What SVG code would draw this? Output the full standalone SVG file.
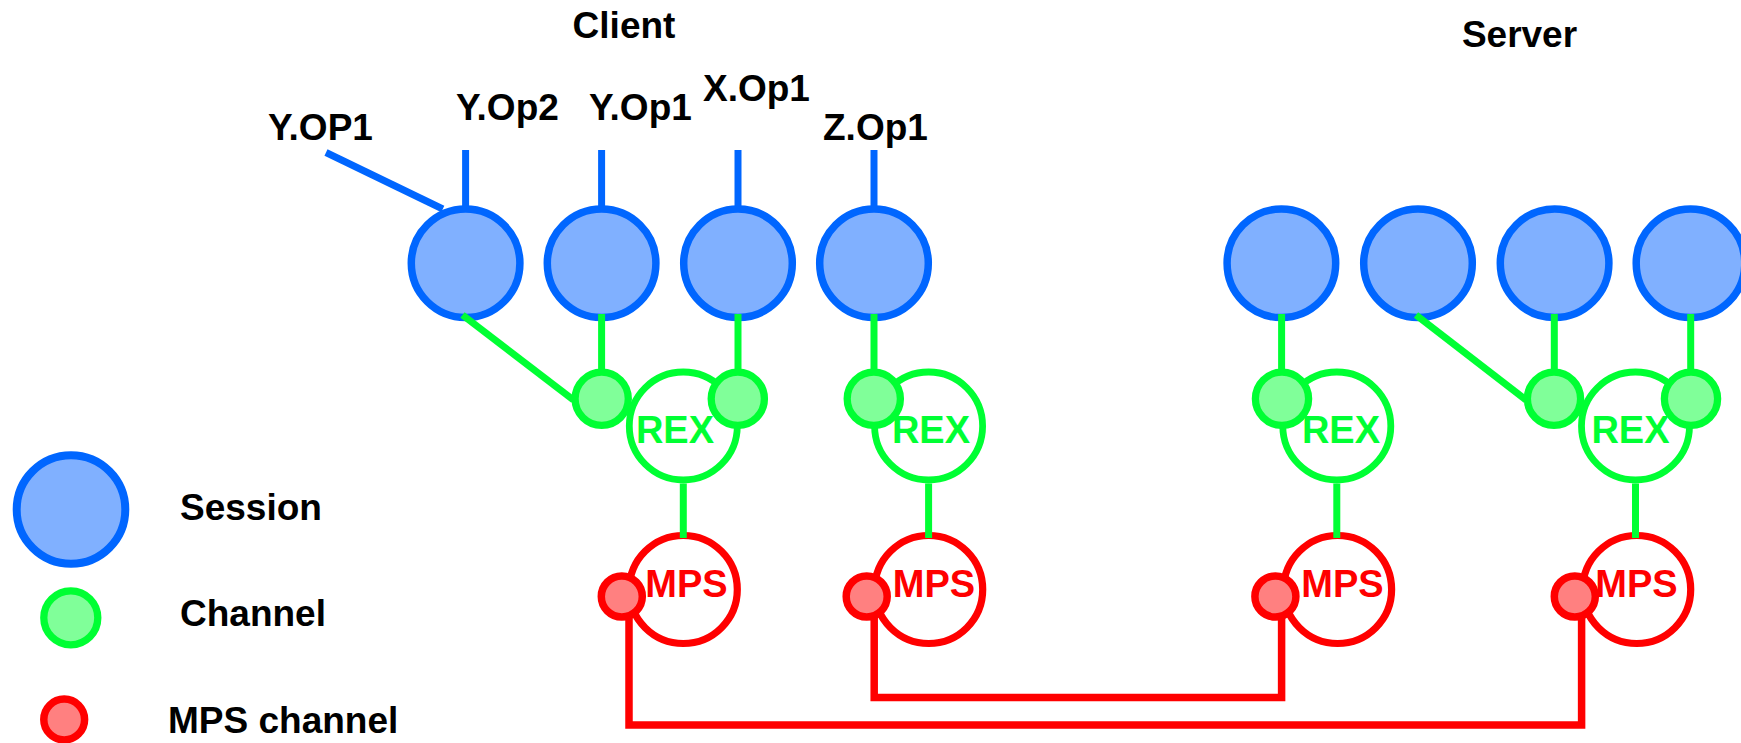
<svg xmlns="http://www.w3.org/2000/svg" width="1741" height="743" viewBox="0 0 1741 743">
  <style>
    .session { fill: #80B0FF; stroke: #0066FF; stroke-width: 7.5; }
    .channel { fill: #80FF99; stroke: #00FF33; stroke-width: 7.3; }
    .rex { fill: #FFFFFF; stroke: #00FF33; stroke-width: 6.8; }
    .mps { fill: #FFFFFF; stroke: #FF0000; stroke-width: 7.2; }
    .mpsch { fill: #FF8080; stroke: #FF0000; stroke-width: 7.5; }
    .lbl { font-family: "Liberation Sans", Arial, Helvetica, sans-serif; font-weight: bold; font-size: 37px; fill: #000000; }
    .rextxt { font-family: "Liberation Sans", Arial, Helvetica, sans-serif; font-weight: bold; font-size: 38px; fill: #00FF33; text-anchor: middle; }
    .mpstxt { font-family: "Liberation Sans", Arial, Helvetica, sans-serif; font-weight: bold; font-size: 38px; fill: #FF0000; text-anchor: middle; }
    .blue { stroke: #0066FF; stroke-width: 7; fill: none; }
    .green { stroke: #00FF33; stroke-width: 7; fill: none; }
    .red { stroke: #FF0000; stroke-width: 7.5; fill: none; stroke-linejoin: miter; }
  </style>
  <rect width="1741" height="743" fill="#FFFFFF"/>

  <!-- headings -->
  <text class="lbl" x="624" y="38" text-anchor="middle" font-size="38">Client</text>
  <text class="lbl" x="1519.5" y="46.5" text-anchor="middle" font-size="38">Server</text>

  <!-- operation labels -->
  <g id="op-labels">
    <text class="lbl" x="268" y="140">Y.OP1</text>
    <text class="lbl" x="456" y="120">Y.Op2</text>
    <text class="lbl" x="589" y="120">Y.Op1</text>
    <text class="lbl" x="703" y="101">X.Op1</text>
    <text class="lbl" x="823" y="140">Z.Op1</text>
  </g>

  <!-- client sessions -->
  <g id="client-session-1"><circle class="session" cx="465.6" cy="263.3" r="54.3"/></g>
  <g id="client-session-2"><circle class="session" cx="601.6" cy="263.3" r="54.3"/></g>
  <g id="client-session-3"><circle class="session" cx="738" cy="263.3" r="54.3"/></g>
  <g id="client-session-4"><circle class="session" cx="874" cy="263.3" r="54.3"/></g>

  <!-- server sessions -->
  <g id="server-session-1"><circle class="session" cx="1281.4" cy="263.3" r="54.3"/></g>
  <g id="server-session-2"><circle class="session" cx="1418" cy="263.3" r="54.3"/></g>
  <g id="server-session-3"><circle class="session" cx="1554.6" cy="263.3" r="54.3"/></g>
  <g id="server-session-4"><circle class="session" cx="1690.5" cy="263.3" r="54.3"/></g>

  <!-- client REX / MPS stack 1 -->
  <g id="client-rex-1">
    <circle class="rex" cx="683.3" cy="426" r="54"/>
    <circle class="channel" cx="601.7" cy="398.8" r="26.6"/>
    <circle class="channel" cx="737.8" cy="398.8" r="26.6"/>
    <text class="rextxt" x="675" y="443">REX</text>
  </g>
  <g id="client-mps-1">
    <circle class="mps" cx="683.3" cy="589.5" r="54"/>
    <circle class="mpsch" cx="621.8" cy="596.5" r="20.5"/>
    <text class="mpstxt" x="686.5" y="596.5">MPS</text>
  </g>

  <!-- client REX / MPS stack 2 -->
  <g id="client-rex-2">
    <circle class="rex" cx="928.6" cy="426" r="54"/>
    <circle class="channel" cx="873.8" cy="398.8" r="26.6"/>
    <text class="rextxt" x="931" y="443">REX</text>
  </g>
  <g id="client-mps-2">
    <circle class="mps" cx="928.7" cy="589.5" r="54"/>
    <circle class="mpsch" cx="866.7" cy="596.5" r="20.5"/>
    <text class="mpstxt" x="934" y="596.5">MPS</text>
  </g>

  <!-- server REX / MPS stack 1 -->
  <g id="server-rex-1">
    <circle class="rex" cx="1336.8" cy="426" r="54"/>
    <circle class="channel" cx="1282" cy="398.8" r="26.6"/>
    <text class="rextxt" x="1341" y="443">REX</text>
  </g>
  <g id="server-mps-1">
    <circle class="mps" cx="1337.6" cy="589.5" r="54"/>
    <circle class="mpsch" cx="1275.4" cy="596.5" r="20.5"/>
    <text class="mpstxt" x="1342.5" y="596.5">MPS</text>
  </g>

  <!-- server REX / MPS stack 2 -->
  <g id="server-rex-2">
    <circle class="rex" cx="1635.5" cy="426" r="54"/>
    <circle class="channel" cx="1554" cy="398.8" r="26.6"/>
    <circle class="channel" cx="1691" cy="398.8" r="26.6"/>
    <text class="rextxt" x="1630.5" y="443">REX</text>
  </g>
  <g id="server-mps-2">
    <circle class="mps" cx="1636.7" cy="589.5" r="54"/>
    <circle class="mpsch" cx="1574.8" cy="596.5" r="20.5"/>
    <text class="mpstxt" x="1636.5" y="596.5">MPS</text>
  </g>

  <!-- connectors -->
  <g id="connectors">
    <!-- operations into client sessions -->
    <line class="blue" x1="326" y1="152.5" x2="442.8" y2="209"/>
    <line class="blue" x1="465.6" y1="150" x2="465.6" y2="206"/>
    <line class="blue" x1="601.6" y1="150" x2="601.6" y2="206"/>
    <line class="blue" x1="738" y1="150" x2="738" y2="206"/>
    <line class="blue" x1="874" y1="150" x2="874" y2="206"/>

    <!-- sessions to channels -->
    <line class="green" x1="462.5" y1="315" x2="573.5" y2="400"/>
    <line class="green" x1="601.6" y1="314" x2="601.6" y2="369"/>
    <line class="green" x1="738" y1="314" x2="738" y2="369"/>
    <line class="green" x1="874" y1="314" x2="874" y2="369"/>
    <line class="green" x1="1281.6" y1="314" x2="1281.6" y2="369"/>
    <line class="green" x1="1416" y1="315" x2="1526" y2="400"/>
    <line class="green" x1="1554.3" y1="314" x2="1554.3" y2="369"/>
    <line class="green" x1="1690.7" y1="314" x2="1690.7" y2="369"/>

    <!-- REX to MPS -->
    <line class="green" x1="683.3" y1="483.5" x2="683.3" y2="538"/>
    <line class="green" x1="928.6" y1="483.5" x2="928.6" y2="538"/>
    <line class="green" x1="1336.8" y1="483.5" x2="1336.8" y2="538"/>
    <line class="green" x1="1635.5" y1="483.5" x2="1635.5" y2="538"/>

    <!-- MPS channel links between client and server -->
    <path class="red" d="M629 613 V725 H1581.6 V613"/>
    <path class="red" d="M874.2 613 V697.5 H1281.6 V613"/>
  </g>

  <!-- legend -->
  <g id="legend-session">
    <circle cx="71" cy="509.5" r="54.3" fill="#80B0FF" stroke="#0066FF" stroke-width="8"/>
    <text class="lbl" x="180" y="520" font-size="38">Session</text>
  </g>
  <g id="legend-channel">
    <circle class="channel" cx="70.8" cy="617.8" r="27"/>
    <text class="lbl" x="180" y="626" font-size="38">Channel</text>
  </g>
  <g id="legend-mps-channel">
    <circle class="mpsch" cx="64.2" cy="719.5" r="20.4"/>
    <text class="lbl" x="168" y="732.5" font-size="38">MPS channel</text>
  </g>
</svg>
